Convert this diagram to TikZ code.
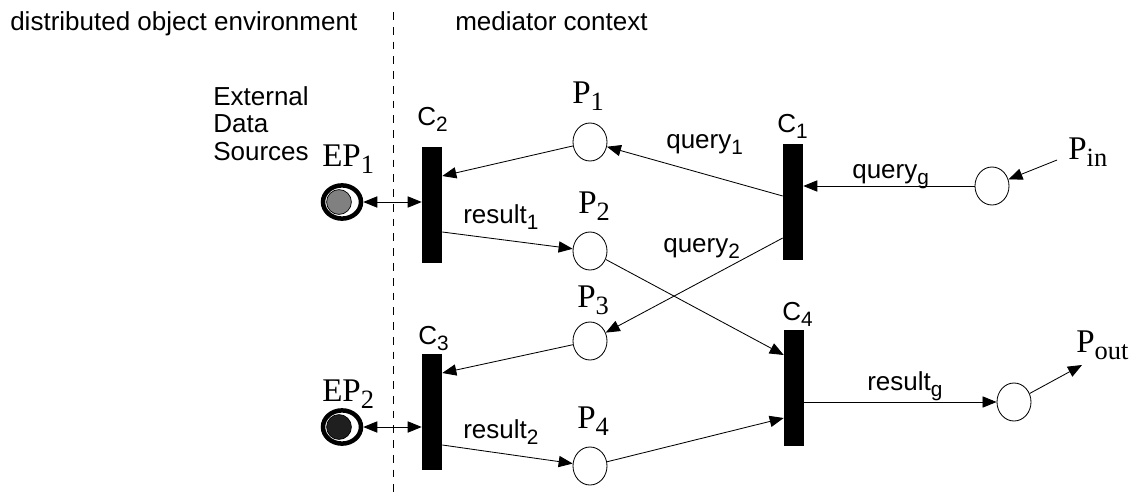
\documentclass[tikz,border=0pt]{standalone}
\usepackage{fontspec}
\setmainfont{Liberation Serif}
\newfontfamily\helv{Liberation Sans}
\usepackage{graphicx}
\usetikzlibrary{arrows.meta,shapes.geometric,calc}
\newcommand\lowix[1]{\raisebox{-0.5ex}{\scalebox{0.8}{#1}}}

\begin{document}
\begin{tikzpicture}
  [x=0.025cm, y=-0.025cm,
   trans/.style={fill=black, inner sep=0, minimum width=0.5cm, minimum height=2.9cm},
   place/.style={draw, ellipse, line width=0.6pt, inner sep=0,
     minimum width=0.85cm, minimum height=0.95cm},
   ext/.style={draw, ellipse, line width=3.2pt, inner sep=0,
     minimum width=0.95cm, minimum height=0.83cm},
   token/.style={draw, circle, line width=0.5pt, inner sep=0, minimum size=0.62cm},
   arc/.style={-{Triangle[length=10pt,width=8pt]}, line width=0.6pt},
   biarc/.style={{Triangle[length=10pt,width=8pt]}-{Triangle[length=10pt,width=8pt]},
     line width=0.6pt},
   sans/.style={font=\helv\fontsize{18.5}{19.3}\selectfont, inner sep=0, anchor=base west},
   serif/.style={font=\fontsize{23.5}{26}\selectfont, inner sep=0, anchor=base west}]
  \useasboundingbox (0,0) rectangle (1133,494);

  % border between the two worlds
  \draw[line width=0.6pt, dash pattern=on 5.5pt off 5pt] (393,12) -- (393,494);
  \node[sans] (envtxt) at (10,30) {distributed object environment};
  \node[sans] (medtxt) at (455,30) {mediator context};
  \node[sans, align=left] (srctxt) at (213,160) {External\\Data\\Sources};

  % transitions
  \node[trans] (C1) at (793,202) {};
  \node[trans] (C2) at (432,205) {};
  \node[trans] (C3) at (432,412) {};
  \node[trans] (C4) at (794,388) {};

  % places
  \node[place] (P1) at (590,142) {};
  \node[place] (P2) at (590,251) {};
  \node[place] (P3) at (590,341) {};
  \node[place] (P4) at (590,466) {};
  \node[place] (Pin) at (992,186) {};
  \node[place] (Pout) at (1014,402) {};

  % external places with tokens
  \node[ext] (EP1) at (342,202) {};
  \node[ext] (EP2) at (342,427) {};
  \node[token, fill=gray] (tok1) at (339,202) {};
  \node[token, fill=black!88] (tok2) at (339,427) {};

  \coordinate (inflow) at (1057,160);
  \coordinate (outflow) at (1082,365);

  % labels
  \node[sans] (C1txt) at (777,132) {C\lowix{1}};
  \node[sans] (C2txt) at (417,125) {C\lowix{2}};
  \node[sans] (C3txt) at (418,344) {C\lowix{3}};
  \node[sans] (C4txt) at (782,320) {C\lowix{4}};
  \node[serif] (P1txt) at (572,103) {P\lowix{1}};
  \node[serif] (P2txt) at (578,213) {P\lowix{2}};
  \node[serif] (P3txt) at (577,307) {P\lowix{3}};
  \node[serif] (P4txt) at (577,428) {P\lowix{4}};
  \node[serif] (Pintxt) at (1068,159) {P\lowix{in}};
  \node[serif] (Pouttxt) at (1076,352) {P\lowix{out}};
  \node[serif] (EP1txt) at (322,166) {EP\lowix{1}};
  \node[serif] (EP2txt) at (322,401) {EP\lowix{2}};
  \node[sans] (qgtxt) at (852,178) {query\lowix{g}};
  \node[sans] (q1txt) at (666,148) {query\lowix{1}};
  \node[sans] (q2txt) at (663,252) {query\lowix{2}};
  \node[sans] (r1txt) at (463,223) {result\lowix{1}};
  \node[sans] (r2txt) at (463,438) {result\lowix{2}};
  \node[sans] (rgtxt) at (867,390) {result\lowix{g}};

  % arcs
  \draw[arc] (inflow) -- (Pin);
  \draw[arc] (Pin.west) -- (Pin.west -| C1.east);
  \draw[arc] ($(C1.west)+(0,-6)$) -- (P1);
  \draw[arc] ($(C1.west)+(0,36)$) -- (P3);
  \draw[arc] (P1) -- ($(C2.east)+(0,-29)$);
  \draw[arc] ($(C2.east)+(0,27)$) -- (P2);
  \draw[arc] (P3) -- ($(C3.east)+(0,-39)$);
  \draw[arc] ($(C3.east)+(0,33)$) -- (P4);
  \draw[arc] (P2) -- ($(C4.west)+(0,-33)$);
  \draw[arc] (P4) -- ($(C4.west)+(0,30)$);
  \draw[arc] (Pout.west -| C4.east) -- (Pout.west);
  \draw[arc] (Pout) -- (outflow);
  \draw[biarc] (EP1.east) -- (EP1.east -| C2.west);
  \draw[biarc] (EP2.east) -- (EP2.east -| C3.west);
\end{tikzpicture}
\end{document}
